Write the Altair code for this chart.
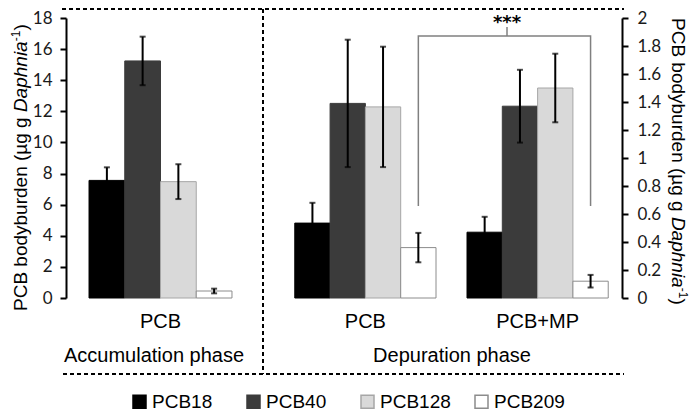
import altair as alt
import pandas as pd

# ---------------- data ----------------
series = ["PCB18", "PCB40", "PCB128", "PCB209"]
fill_colors = ["#000000", "#3b3b3b", "#d9d9d9", "#ffffff"]
edge_colors = ["#000000", "#3b3b3b", "#a6a6a6", "#8c8c8c"]

acc_groups = ["PCB"]
acc_means = [7.56, 15.24, 7.48, 0.45]
acc_errs = [0.84, 1.56, 1.12, 0.15]

dep_groups = ["PCB", "PCB+MP"]
dep_pcb_means = [0.535, 1.39, 1.365, 0.36]
dep_pcb_errs = [0.145, 0.455, 0.43, 0.105]
dep_mp_means = [0.47, 1.37, 1.50, 0.12]
dep_mp_errs = [0.11, 0.26, 0.245, 0.045]

left_ticks = [0, 2, 4, 6, 8, 10, 12, 14, 16, 18]
right_ticks = [0, 0.2, 0.4, 0.6, 0.8, 1, 1.2, 1.4, 1.6, 1.8, 2]

bracket_series = "PCB209"
bracket_bottom = 0.657
bracket_top = 1.871
bracket_mid_top = 1.936
signif_label = "***"

acc_title = "Accumulation phase"
dep_title = "Depuration phase"
y_title_main = "PCB bodyburden (µg g "
y_title_italic = "Daphnia"
y_title_sup = "-1"
y_title_end = ")"


def rows(group, means, errs):
    return [
        {"group": group, "series": s, "value": m, "lo": m - e, "hi": m + e}
        for s, m, e in zip(series, means, errs)
    ]


acc_df = pd.DataFrame(rows("PCB", acc_means, acc_errs))
dep_df = pd.DataFrame(rows("PCB", dep_pcb_means, dep_pcb_errs) + rows("PCB+MP", dep_mp_means, dep_mp_errs))
bracket_df = pd.DataFrame({
    "group": ["PCB", "PCB", "PCB+MP", "PCB+MP"],
    "series": [bracket_series] * 4,
    "value": [bracket_bottom, bracket_top, bracket_top, bracket_bottom],
    "order": [0, 1, 2, 3],
})
one = pd.DataFrame({"a": [0]})

TXT = "Liberation Sans"

color = alt.Color(
    "series:N", sort=series,
    scale=alt.Scale(domain=series, range=fill_colors),
    legend=alt.Legend(
        orient="none", legendX=64, legendY=374, direction="horizontal", title=None,
        symbolType="square", symbolSize=169, symbolStrokeColor="black", symbolStrokeWidth=1.5,
        symbolFillColor="white",
        labelFont=TXT, labelFontSize=19, labelColor="black", labelOffset=3,
        columnPadding=21, gridAlign="all", padding=0,
    ),
)
stroke = alt.Stroke("series:N", sort=series, scale=alt.Scale(domain=series, range=edge_colors), legend=None)


def panel(df, groups, x_range, pad_in, pad_out, x_title, title_x, y_domain, y_ticks, y_orient, y_lpad):
    x = alt.X(
        "group:N", sort=groups,
        scale=alt.Scale(domain=groups, range=x_range, paddingInner=pad_in, paddingOuter=pad_out),
        axis=alt.Axis(
            orient="bottom", title=x_title, titleX=title_x, labelAngle=0, domain=False, ticks=False,
            tickSize=0, labelPadding=13.5, titlePadding=14, grid=False,
            labelFont=TXT, labelFontSize=20, labelColor="black",
            titleFont=TXT, titleFontSize=20, titleFontWeight="normal", titleColor="black",
        ),
    )
    xo = alt.XOffset("series:N", sort=series, scale=alt.Scale(domain=series, paddingInner=0, paddingOuter=0))
    yscale = alt.Scale(domain=y_domain, nice=False)
    yaxis = alt.Axis(orient=y_orient, values=y_ticks, format="~g", title=None, grid=False,
                     labelPadding=y_lpad, labelOverlap=False, tickCount=len(y_ticks))
    bars = alt.Chart(df).mark_bar(strokeWidth=1).encode(
        x=x, xOffset=xo, y=alt.Y("value:Q", scale=yscale, axis=yaxis), color=color, stroke=stroke
    )
    stems = alt.Chart(df).mark_rule(color="black", strokeWidth=2).encode(
        x=x, xOffset=xo, y=alt.Y("lo:Q", scale=yscale, axis=yaxis), y2="hi:Q"
    )
    caps = alt.Chart(df).transform_fold(["lo", "hi"], as_=["end", "ev"]).mark_tick(
        color="black", thickness=2, size=6
    ).encode(x=x, xOffset=xo, y=alt.Y("ev:Q", scale=yscale, axis=yaxis))
    return x, xo, yscale, yaxis, [bars, stems, caps]


_, _, _, _, layers_a = panel(acc_df, acc_groups, [0, 189], 0, 0.161, acc_title, 87.5,
                             [0, 18], left_ticks, "left", 8)
xb, xob, ysb, yab, layers_b = panel(dep_df, dep_groups, [215, 556], 0.18, 0.08, dep_title, 385.5,
                                   [0, 2], right_ticks, "right", 9)

bracket = alt.Chart(bracket_df).mark_line(color="#808080", strokeWidth=1.5).encode(
    x=xb, xOffset=xob, y=alt.Y("value:Q", scale=ysb, axis=yab), order="order:Q"
)
mid_tick = alt.Chart(one).mark_rule(color="#808080", strokeWidth=1.5).encode(
    x=alt.value(441), y=alt.datum(bracket_top), y2=alt.datum(bracket_mid_top)
)
stars = alt.Chart(one).mark_text(
    text=signif_label, font="DejaVu Sans", fontWeight="bold", fontSize=18,
    baseline="alphabetic", align="center", dy=1,
).encode(x=alt.value(441), y=alt.datum(bracket_mid_top))

layer_a = alt.layer(*layers_a)
layer_b = alt.layer(*layers_b, bracket, mid_tick, stars)


def dashed(x, x2, y, y2=None):
    enc = dict(x=alt.value(x), y=alt.value(y))
    if x2 is not None:
        enc["x2"] = alt.value(x2)
    if y2 is not None:
        enc["y2"] = alt.value(y2)
    return alt.Chart(one).mark_rule(color="black", strokeWidth=2, strokeDash=[4, 3]).encode(**enc)


decor = [
    dashed(-4, 558, -9),
    dashed(-3, 558, 356),
    dashed(197, None, -9, 356),
]


def title_piece(text, x, y, angle, dx, dy=0, size=19, style="normal"):
    return alt.Chart(one).mark_text(
        text=text, font=TXT, fontSize=size, fontStyle=style, angle=angle,
        align="left", baseline="middle", dx=dx, dy=dy, color="black",
    ).encode(x=alt.value(x), y=alt.value(y))


w_main, w_ital, w_sup = 198.9, 70.8, 10.7
titles = []
for (tx, ty, ang) in [(-45, 293, 270), (612, 0, 90)]:
    titles += [
        title_piece(y_title_main, tx, ty, ang, 0),
        title_piece(y_title_italic, tx, ty, ang, w_main, style="italic"),
        title_piece(y_title_sup, tx, ty, ang, w_main + w_ital, dy=-5, size=12),
        title_piece(y_title_end, tx, ty, ang, w_main + w_ital + w_sup),
    ]

chart = (
    alt.layer(layer_a, layer_b, *decor, *titles)
    .resolve_scale(x="independent", y="independent", xOffset="independent")
    .resolve_axis(x="independent", y="independent")
    .properties(
        width=556, height=280,
        autosize=alt.AutoSizeParams(type="none"),
        padding={"left": 58, "top": 10, "right": 70, "bottom": 115},
        background="white",
    )
    .configure_view(stroke=None)
    .configure_axis(
        labelFont="Lato", labelFontSize=17, labelColor="#1a1a1a", labelOverlap=False,
        domainColor="black", domainWidth=2, tickColor="black", tickWidth=2, tickSize=6,
    )
)

chart.save("out.html", embed_options={"renderer": "svg", "actions": False})
